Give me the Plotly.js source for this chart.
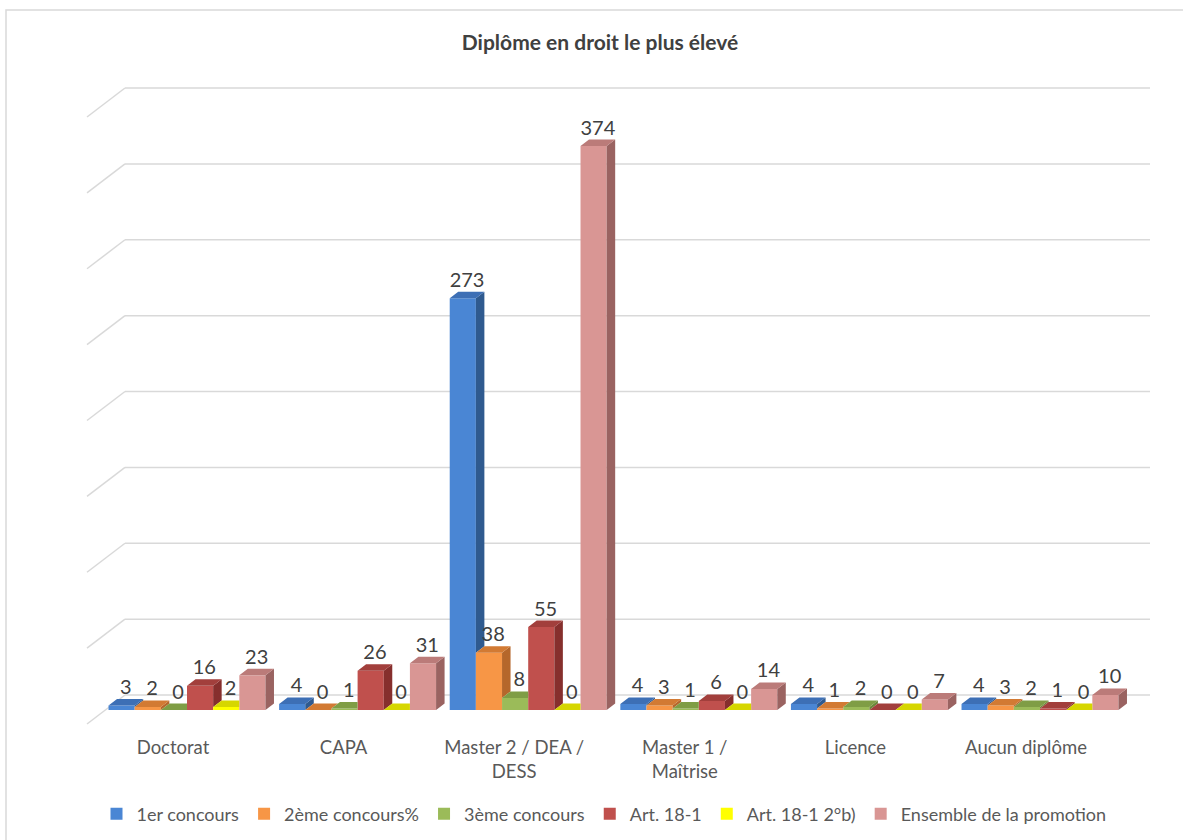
<!DOCTYPE html>
<html>
<head>
<meta charset="utf-8">
<script src="https://cdn.plot.ly/plotly-3.0.1.min.js"></script>
<style>html,body{margin:0;padding:0;background:#fff;}#chart{width:1183px;height:840px;}</style>
</head>
<body>
<div id="chart"></div>
<script>
// ---- data ----
const categories = ['Doctorat', 'CAPA', 'Master 2 / DEA /<br>DESS', 'Master 1 /<br>Maîtrise', 'Licence', 'Aucun diplôme'];
const seriesNames = ['1er concours', '2ème concours%', '3ème concours', 'Art. 18-1', 'Art. 18-1 2°b)', 'Ensemble de la promotion'];
const premierConcours = [3, 4, 273, 4, 4, 4];
const deuxiemeConcours = [2, 0, 38, 3, 1, 3];
const troisiemeConcours = [0, 1, 8, 1, 2, 2];
const art181 = [16, 26, 55, 6, 0, 1];
const art1812b = [2, 0, 0, 0, 0, 0];
const ensemble = [23, 31, 374, 14, 7, 10];
const gridValues = [0, 50, 100, 150, 200, 250, 300, 350, 400];

// ---- styling ----
const frontColors = ['#4a86d4', '#f79646', '#9bbb59', '#c0504d', '#ffff00', '#d99694'];
const topColors   = ['#3d6fb5', '#d27a33', '#7f9d45', '#a23f3c', '#d6d600', '#bb7b79'];
const sideColors  = ['#2f5a8f', '#b5672b', '#6a8738', '#862f2d', '#a8a800', '#9a6361'];

const allSeries = [premierConcours, deuxiemeConcours, troisiemeConcours, art181, art1812b, ensemble];
const W = 1183, H = 840, B = 110;
const pxPerCat = 170.6, pxPerUnit = 1.508, pxPerUnitBack = 1.5175;
const bargap = 0.08;
const w = (1 - bargap) / 6;
const dx = 8.5 / pxPerCat;
const dy = 6.5 / pxPerUnit;
const r0 = -187 / pxPerCat;
const xRange = [r0, r0 + W / pxPerCat];
const plotH = H - B;
const y0 = -(plotH - 710) / pxPerUnit;
const yRange = [y0, y0 + plotH / pxPerUnit];
const y20 = -(plotH - 695) / pxPerUnitBack;
const y2Range = [y20, y20 + plotH / pxPerUnitBack];

const font = 'Lato, "Open Sans", sans-serif';
const traces = [];

// front faces (bars, with legend)
allSeries.forEach((vals, j) => {
  traces.push({
    type: 'bar', name: seriesNames[j], x: categories.map((c, i) => i), y: vals,
    marker: {color: frontColors[j], line: {width: 0}},
    hoverinfo: 'skip'
  });
});

// side and top faces
allSeries.forEach((vals, j) => {
  const sx = [], sy = [], tx = [], ty = [];
  vals.forEach((v, i) => {
    const xl = i - (1 - bargap) / 2 + j * w, xr = xl + w;
    const hasNext = j < allSeries.length - 1;
    const nxt = hasNext ? allSeries[j + 1][i] : null;
    // top face
    if (hasNext && nxt >= v) {
      const cut = Math.max(0, v + dy - nxt) * dx / dy;
      tx.push(xl, xr, xr, xr + cut, xl + dx, null);
      ty.push(v, v, Math.min(nxt, v + dy), v + dy, v + dy, null);
    } else {
      tx.push(xl, xr, xr + dx, xl + dx, null);
      ty.push(v, v, v + dy, v + dy, null);
    }
    // side face
    if (!hasNext) {
      sx.push(xr, xr, xr + dx, xr + dx, null);
      sy.push(0, v, v + dy, dy, null);
    } else if (v > nxt) {
      sx.push(xr, xr, xr + dx, xr + dx, null);
      sy.push(nxt, v, v + dy, nxt + dy, null);
    }
  });
  traces.push({type: 'scatter', mode: 'lines', x: sx, y: sy, fill: 'toself', fillcolor: sideColors[j],
    line: {width: 0, color: sideColors[j]}, showlegend: false, hoverinfo: 'skip', connectgaps: false});
  traces.push({type: 'scatter', mode: 'lines', x: tx, y: ty, fill: 'toself', fillcolor: topColors[j],
    line: {width: 0, color: topColors[j]}, showlegend: false, hoverinfo: 'skip', connectgaps: false});
});

// data labels
allSeries.forEach((vals, j) => {
  traces.push({
    type: 'scatter', mode: 'text',
    x: vals.map((v, i) => i - (1 - bargap) / 2 + j * w + w / 2 + dx / 2),
    y: vals.map(v => v + dy),
    text: vals.map(v => String(v)),
    textposition: 'top center',
    textfont: {family: font, size: 20, color: '#404040'},
    showlegend: false, hoverinfo: 'skip', cliponaxis: false
  });
});

// back-wall gridlines + left stubs
const shapes = [];
gridValues.forEach(g => {
  shapes.push({type: 'line', layer: 'below', xref: 'paper', yref: 'y2',
    x0: 125 / W, x1: 1150 / W, y0: g, y1: g, line: {color: '#d9d9d9', width: 1.5}});
  shapes.push({type: 'line', layer: 'below', xref: 'paper', yref: 'y2',
    x0: 87 / W, x1: 125 / W, y0: g - 29 / pxPerUnitBack, y1: g, line: {color: '#d9d9d9', width: 1.5}});
});
// chart border
shapes.push({type: 'rect', layer: 'below', xref: 'paper', yref: 'paper',
  x0: 6 / W, x1: 1.02, y0: (plotH - 10) / plotH, y1: -0.2, line: {color: '#d9d9d9', width: 1.5}, fillcolor: 'rgba(0,0,0,0)'});

const layout = {
  width: W, height: H,
  margin: {l: 0, r: 0, t: 0, b: B},
  paper_bgcolor: '#ffffff', plot_bgcolor: 'rgba(0,0,0,0)',
  barmode: 'group', bargap: bargap, bargroupgap: 0,
  showlegend: true,
  title: {text: 'Diplôme en droit le plus élevé', x: 600 / W, xref: 'paper', xanchor: 'center',
    y: 1 - 43 / H, yref: 'container', yanchor: 'middle',
    font: {family: font, size: 21, color: '#404040', weight: 'bold'}},
  xaxis: {range: xRange, tickvals: [0, 1, 2, 3, 4, 5], ticktext: categories, showgrid: false,
    zeroline: false, showline: false, ticks: '', ticklabelshift: -14, ticklabelstandoff: 4,
    tickfont: {family: font, size: 18.5, color: '#595959'}, fixedrange: true},
  yaxis: {range: yRange, visible: false, showgrid: false, zeroline: false, fixedrange: true},
  yaxis2: {range: y2Range, overlaying: 'y', visible: false, showgrid: false, zeroline: false, fixedrange: true},
  legend: {orientation: 'h', x: 604 / W, xanchor: 'center', y: (plotH - 814) / plotH, yanchor: 'middle',
    font: {family: font, size: 18, color: '#595959'}, traceorder: 'normal', itemclick: false},
  shapes: shapes
};

Plotly.newPlot('chart', traces, layout, {staticPlot: true, displayModeBar: false});
</script>
</body>
</html>
